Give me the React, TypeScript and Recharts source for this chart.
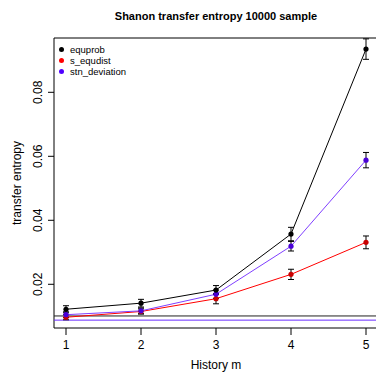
import React from 'react';
import {
  ComposedChart,
  Line,
  XAxis,
  YAxis,
  ErrorBar,
  ReferenceLine,
  ReferenceArea,
} from 'recharts';

const historyM = [1, 2, 3, 4, 5];
const equprob = [0.0122, 0.0141, 0.0182, 0.0357, 0.0935];
const equprobErr = [0.0011, 0.0012, 0.0014, 0.0021, 0.0032];
const sEqudist = [0.0097, 0.0115, 0.0155, 0.0231, 0.0331];
const sEqudistErr = [0.0008, 0.0008, 0.0016, 0.0016, 0.0020];
const stnDeviation = [0.0105, 0.0117, 0.0169, 0.0319, 0.0588];
const stnDeviationErr = [0.0009, 0.0009, 0.0013, 0.0015, 0.0024];
const baselineBlack = 0.0101;
const baselinePurple = 0.0088;
const xTicks = [1, 2, 3, 4, 5];
const yTicks = [0.02, 0.04, 0.06, 0.08];

const legendItems = [
  { label: 'equprob', color: '#000000' },
  { label: 's_equdist', color: '#ff0000' },
  { label: 'stn_deviation', color: '#5000ff' },
];

const FONT = 'Liberation Sans, Arial, Helvetica, sans-serif';
const X_DOMAIN: [number, number] = [0.84, 5.16];
const Y_DOMAIN: [number, number] = [0.00634, 0.09697];

const data = historyM.map((m, i) => ({
  m,
  equprob: equprob[i],
  equprobErr: equprobErr[i],
  sEqudist: sEqudist[i],
  sEqudistErr: sEqudistErr[i],
  stnDeviation: stnDeviation[i],
  stnDeviationErr: stnDeviationErr[i],
}));

function makeDot(color: string) {
  return (props: any) => {
    const { cx, cy, index } = props;
    if (cx == null || cy == null) return <g key={index} />;
    return <circle key={index} cx={cx} cy={cy} r={2.6} fill={color} stroke="none" />;
  };
}

function XTick(props: any) {
  const { x, payload } = props;
  return (
    <text x={x} y={348.5} textAnchor="middle" fontSize={12} fontFamily={FONT} fill="#000">
      {payload.value}
    </text>
  );
}

function YTick(props: any) {
  const { y, payload } = props;
  const bx = 42.3;
  return (
    <text
      x={bx}
      y={y}
      textAnchor="middle"
      transform={`rotate(-90, ${bx}, ${y})`}
      fontSize={12}
      fontFamily={FONT}
      fill="#000"
    >
      {payload.value.toFixed(2)}
    </text>
  );
}

export default function App() {
  return (
    <div
      style={{
        position: 'absolute',
        left: 0,
        top: 0,
        width: 376,
        height: 374,
        overflow: 'hidden',
        background: '#fff',
      }}
    >
      <ComposedChart
        width={380}
        height={374}
        data={data}
        margin={{ top: 38, right: 2, bottom: 0, left: 0 }}
      >
        <XAxis
          dataKey="m"
          type="number"
          domain={X_DOMAIN}
          ticks={xTicks}
          allowDataOverflow
          tick={<XTick />}
          tickSize={7}
          tickLine={{ stroke: '#000' }}
          axisLine={false}
          height={46}
        />
        <YAxis
          type="number"
          domain={Y_DOMAIN}
          ticks={yTicks}
          allowDataOverflow
          tick={<YTick />}
          tickSize={6}
          tickLine={{ stroke: '#000' }}
          axisLine={false}
          width={54}
        />
        <ReferenceArea
          x1={X_DOMAIN[0]}
          x2={X_DOMAIN[1]}
          y1={Y_DOMAIN[0]}
          y2={Y_DOMAIN[1]}
          fill="none"
          stroke="#000"
          strokeWidth={1}
          ifOverflow="visible"
        />
        <ReferenceLine y={baselineBlack} stroke="#222" strokeWidth={1} />
        <ReferenceLine y={baselinePurple} stroke="#6a2cff" strokeWidth={1} />
        <Line
          dataKey="sEqudist"
          stroke="#ff0000"
          strokeWidth={1}
          dot={makeDot('#c80000')}
          activeDot={false}
          isAnimationActive={false}
        >
          <ErrorBar dataKey="sEqudistErr" direction="y" width={3} stroke="#000" strokeWidth={1} />
        </Line>
        <Line
          dataKey="stnDeviation"
          stroke="#7f3fff"
          strokeWidth={1}
          dot={makeDot('#4a00d8')}
          activeDot={false}
          isAnimationActive={false}
        >
          <ErrorBar dataKey="stnDeviationErr" direction="y" width={3} stroke="#000" strokeWidth={1} />
        </Line>
        <Line
          dataKey="equprob"
          stroke="#000"
          strokeWidth={1}
          dot={makeDot('#000')}
          activeDot={false}
          isAnimationActive={false}
        >
          <ErrorBar dataKey="equprobErr" direction="y" width={3} stroke="#000" strokeWidth={1} />
        </Line>
      </ComposedChart>

      {/* title */}
      <div
        style={{
          position: 'absolute',
          left: 16,
          top: 10,
          width: 400,
          textAlign: 'center',
          fontFamily: FONT,
          fontWeight: 'bold',
          fontSize: 11,
        }}
      >
        Shanon transfer entropy 10000 sample
      </div>

      {/* legend */}
      <div style={{ position: 'absolute', left: 59, top: 44, fontFamily: FONT, fontSize: 9.5 }}>
        {legendItems.map((it) => (
          <div key={it.label} style={{ display: 'flex', alignItems: 'center', height: 11 }}>
            <span
              style={{
                display: 'inline-block',
                width: 5,
                height: 5,
                borderRadius: '50%',
                background: it.color,
                marginRight: 6,
              }}
            />
            <span>{it.label}</span>
          </div>
        ))}
      </div>

      {/* axis titles */}
      <div
        style={{
          position: 'absolute',
          left: 176,
          top: 358,
          width: 80,
          textAlign: 'center',
          fontFamily: FONT,
          fontSize: 12,
        }}
      >
        History m
      </div>
      <div
        style={{
          position: 'absolute',
          left: 17 - 60,
          top: 183 - 8,
          width: 120,
          height: 16,
          lineHeight: '16px',
          textAlign: 'center',
          transform: 'rotate(-90deg)',
          fontFamily: FONT,
          fontSize: 12,
        }}
      >
        transfer entropy
      </div>
    </div>
  );
}
